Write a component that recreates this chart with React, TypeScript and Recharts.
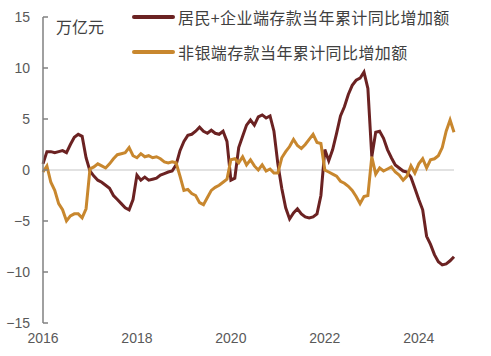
import React from 'react';
import { LineChart, Line, XAxis, YAxis, ReferenceLine } from 'recharts';

// monthly, 2016-01 .. 2024-10
const months: string[] = [];
for (let y = 2016; y <= 2024; y++) {
  for (let m = 1; m <= 12; m++) {
    if (y === 2024 && m > 10) break;
    months.push(`${y}-${m < 10 ? '0' + m : m}`);
  }
}

// 居民+企业端存款当年累计同比增加额 (万亿元)
const householdCorp = [
  0.6, 1.8, 1.8, 1.7, 1.8, 1.9, 1.7, 2.5, 3.2, 3.5, 3.3, 1.2,
  -0.1, -0.6, -1.0, -1.2, -1.5, -1.8, -2.5, -2.9, -3.3, -3.7, -3.9, -2.9,
  -0.5, -1.0, -0.7, -1.0, -0.9, -0.8, -0.5, -0.35, -0.2, -0.1, 0.5, 1.9,
  2.8, 3.4, 3.5, 3.8, 4.2, 3.8, 3.6, 3.9, 3.6, 3.5, 3.8, 2.8,
  -1.0, -0.8, 2.2, 3.3, 4.4, 4.9, 4.4, 5.2, 5.4, 5.1, 5.3, 3.8,
  0.6, -1.8, -3.7, -4.8, -4.2, -3.8, -4.3, -4.6, -4.7, -4.6, -4.3, -2.5,
  2.0, 0.9, 2.0, 3.6, 5.3, 6.2, 7.4, 8.3, 8.8, 9.0, 9.6, 8.0,
  1.3, 3.7, 3.8, 3.1, 2.0, 1.2, 0.5, 0.2, -0.1, -0.2, -0.7, -1.8,
  -2.9, -3.9, -6.5, -7.3, -8.3, -9.0, -9.3, -9.2, -8.9, -8.5,
];

// 非银端存款当年累计同比增加额 (万亿元)
const nonBank = [
  -0.2, 0.4, -1.2, -2.0, -3.3, -3.9, -5.0, -4.5, -4.3, -4.3, -4.7, -3.8,
  0.1, 0.3, 0.6, 0.4, 0.2, 0.6, 1.1, 1.5, 1.6, 1.7, 2.2, 1.4,
  1.2, 1.6, 1.3, 1.4, 1.2, 1.3, 1.1, 0.8, 0.7, 0.8, 0.7, -0.6,
  -2.0, -1.9, -2.3, -2.5, -3.2, -3.4, -2.7, -2.0, -1.7, -1.5, -1.2, -0.9,
  1.0, 1.1, 0.7, 1.3, 0.5, 1.0, 0.4, 0.0, 0.5, -0.1, 0.1, -0.3,
  -0.3, 1.2, 1.8, 2.3, 3.0, 2.4, 2.1, 2.5, 3.0, 3.5, 2.7, 2.6,
  0.0, -0.2, -0.4, -0.6, -1.1, -1.3, -1.6, -2.0, -2.6, -3.3, -2.6, -2.5,
  1.3, -0.4, 0.2, -0.1, 0.1, 0.3, -0.2, -0.5, -1.0, -0.6, 0.4, -0.3,
  0.6, 1.1, 0.2, 1.0, 1.1, 1.4, 2.2, 3.8, 4.9, 3.7,
];

const xTicks = ['2016-01', '2018-01', '2020-01', '2022-01', '2024-01'];
const yTicks = [-15, -10, -5, 0, 5, 10, 15];

const seriesNames = ['居民+企业端存款当年累计同比增加额', '非银端存款当年累计同比增加额'];
const COLORS = ['#6b2222', '#c8872e'];

const data = months.map((month, i) => ({
  month,
  a: householdCorp[i],
  b: nonBank[i],
}));

const cjk = '"Noto Sans CJK SC", "Noto Sans", sans-serif';
const num = '"Liberation Sans", Arial, sans-serif';

const App: React.FC = () => {
  return (
    <div style={{ position: 'absolute', left: 0, top: 0, width: 491, height: 356, background: '#fff' }}>
      <LineChart width={491} height={356} data={data} margin={{ top: 17, right: 37, bottom: 3, left: 0 }}>
        <ReferenceLine y={0} stroke="#d9d9d9" strokeWidth={1.5} />
        <XAxis
          dataKey="month"
          ticks={xTicks}
          interval={0}
          tickFormatter={(v: string) => v.slice(0, 4)}
          axisLine={false}
          tickLine={false}
          tickSize={0}
          tickMargin={10}
          height={30}
          tick={{ fill: '#595959', fontSize: 14, fontFamily: num }}
        />
        <YAxis
          domain={[-15, 15]}
          ticks={yTicks}
          interval={0}
          width={43}
          axisLine={{ stroke: '#808080', strokeWidth: 1.5 }}
          tickLine={{ stroke: '#808080', strokeWidth: 1.5 }}
          tickSize={-5}
          tickMargin={18}
          tickFormatter={(v: number) => String(v).replace('-', '\u2212')}
          tick={{ fill: '#595959', fontSize: 14, fontFamily: num }}
        />
        <Line type="linear" dataKey="a" stroke={COLORS[0]} strokeWidth={3} dot={false} isAnimationActive={false} />
        <Line type="linear" dataKey="b" stroke={COLORS[1]} strokeWidth={3} dot={false} isAnimationActive={false} />
      </LineChart>

      <div style={{ position: 'absolute', left: 56, top: 16, fontFamily: cjk, fontSize: 16, color: '#404040', lineHeight: '20px' }}>
        万亿元
      </div>
      {seriesNames.map((name, i) => (
        <div
          key={name}
          style={{ position: 'absolute', left: 132, top: 7 + i * 35, height: 20, display: 'flex', alignItems: 'center' }}
        >
          <div style={{ width: 43, height: 4, background: COLORS[i], borderRadius: 2 }} />
          <span style={{ marginLeft: 3, fontFamily: cjk, fontSize: 16, letterSpacing: 0.4, color: '#404040', whiteSpace: 'nowrap', lineHeight: '20px' }}>
            {name}
          </span>
        </div>
      ))}
    </div>
  );
};

export default App;
